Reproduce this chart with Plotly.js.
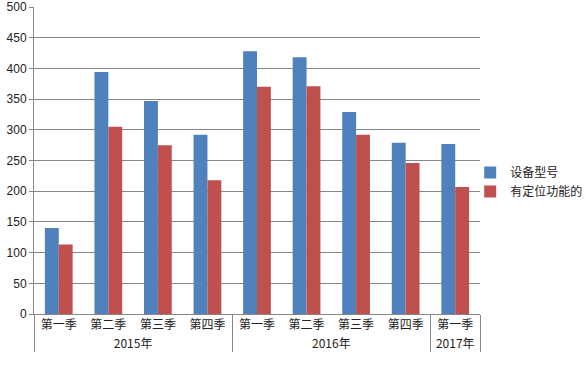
<!DOCTYPE html>
<html>
<head>
<meta charset="utf-8">
<script src="https://cdn.plot.ly/plotly-3.0.1.min.js"></script>
<style>html,body{margin:0;padding:0;background:#fff;}#chart{width:585px;height:366px;}</style>
</head>
<body>
<div id="chart"></div>
<script>
var years = ["2015年","2015年","2015年","2015年","2016年","2016年","2016年","2016年","2017年"];
var quarters = ["第一季","第二季","第三季","第四季","第一季","第二季","第三季","第四季","第一季"];
var seriesNames = ["设备型号","有定位功能的"];
var deviceModels = [140, 394, 347, 292, 428, 418, 329, 279, 277];
var withPositioning = [113, 305, 275, 218, 370, 371, 292, 246, 207];
var yTicks = [0, 50, 100, 150, 200, 250, 300, 350, 400, 450, 500];

var font = "'Liberation Sans', 'Noto Sans CJK SC', sans-serif";
var cjk = "'Noto Sans CJK SC', sans-serif";
var traces = [
  {type: 'bar', name: seriesNames[0], x: [years, quarters], y: deviceModels, marker: {color: '#4F81BD'}},
  {type: 'bar', name: seriesNames[1], x: [years, quarters], y: withPositioning, marker: {color: '#C0504D'}}
];
var layout = {
  width: 585, height: 366,
  margin: {l: 34, r: 105, t: 7, b: 52, autoexpand: false},
  paper_bgcolor: '#fff', plot_bgcolor: '#fff',
  font: {family: font, size: 12, color: '#222'},
  barmode: 'group', bargap: 0.44, bargroupgap: 0,
  showlegend: true,
  legend: {x: 0.978, xanchor: 'left', y: 0.43, yanchor: 'middle', bgcolor: 'rgba(0,0,0,0)',
           font: {family: cjk, size: 12, color: '#222'}, itemwidth: 30, tracegroupgap: 0},
  xaxis: {type: 'multicategory', showline: true, linecolor: '#868686', linewidth: 1,
          showdividers: true, dividercolor: '#868686', dividerwidth: 1,
          tickfont: {family: cjk, size: 12, color: '#222'}, ticks: ''},
  yaxis: {range: [0, 500], tickvals: yTicks, showgrid: true, gridcolor: '#868686', gridwidth: 1,
          showline: true, linecolor: '#868686', ticks: 'outside', ticklen: 4, tickcolor: '#868686',
          zeroline: false, tickfont: {family: font, size: 12, color: '#222'}}
};
Plotly.newPlot('chart', traces, layout, {displayModeBar: false, staticPlot: true});
</script>
</body>
</html>
